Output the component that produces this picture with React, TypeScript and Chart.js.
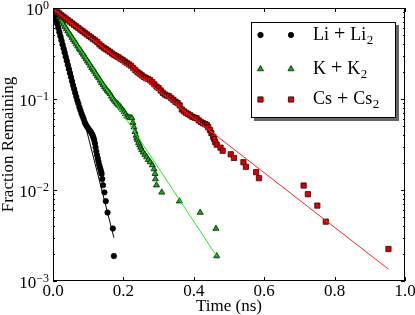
import React, { useEffect, useRef } from 'react';
import { Chart, registerables } from 'chart.js';

Chart.register(...registerables);

// ---------- data ----------
const liTime = [
  0.000, 0.003, 0.006, 0.009, 0.012, 0.015, 0.018, 0.021, 0.024, 0.027,
  0.030, 0.033, 0.036, 0.039, 0.042, 0.045, 0.048, 0.051, 0.054, 0.057,
  0.060, 0.063, 0.066, 0.069, 0.072, 0.075, 0.078, 0.081, 0.084, 0.087,
  0.090, 0.093, 0.096, 0.099, 0.102, 0.105, 0.108, 0.111, 0.113, 0.115,
  0.117, 0.119, 0.121, 0.123, 0.125, 0.127, 0.129, 0.131, 0.133, 0.135,
  0.137, 0.138, 0.140, 0.142, 0.146, 0.150, 0.155, 0.170, 0.173,
];
const liFraction = [
  1.000, 0.912, 0.822, 0.741, 0.668, 0.603, 0.543, 0.490, 0.442, 0.398,
  0.359, 0.324, 0.292, 0.263, 0.237, 0.214, 0.193, 0.174, 0.157, 0.141,
  0.129, 0.117, 0.106, 0.0966, 0.0891, 0.0813, 0.0750, 0.0692, 0.0646, 0.0603,
  0.0556, 0.0525, 0.0501, 0.0484, 0.0462, 0.0447, 0.0432, 0.0412, 0.0394, 0.0376,
  0.0355, 0.0327, 0.0295, 0.0266, 0.0243, 0.0224, 0.0207, 0.0191, 0.0178, 0.0168,
  0.0158, 0.0150, 0.0132, 0.0113, 0.00942, 0.00753, 0.00565, 0.00377, 0.00188,
];

const kTime = [
  0.018, 0.022, 0.026, 0.030, 0.034, 0.038, 0.042, 0.046, 0.050, 0.054,
  0.058, 0.062, 0.066, 0.070, 0.074, 0.078, 0.082, 0.086, 0.090, 0.094,
  0.098, 0.102, 0.106, 0.110, 0.114, 0.118, 0.122, 0.126, 0.130, 0.134,
  0.138, 0.142, 0.146, 0.150, 0.154, 0.158, 0.162, 0.166, 0.170, 0.174,
  0.178, 0.182, 0.186, 0.190, 0.194, 0.198, 0.202, 0.206, 0.210, 0.214,
  0.219, 0.224, 0.227, 0.230, 0.233, 0.236, 0.238, 0.240, 0.243, 0.246,
  0.249, 0.252, 0.256, 0.261, 0.266, 0.271, 0.276, 0.282, 0.287, 0.290,
  0.291, 0.294, 0.309, 0.359, 0.418, 0.463, 0.465,
];
const kFraction = [
  0.794, 0.741, 0.700, 0.661, 0.624, 0.589, 0.556, 0.525, 0.501, 0.473,
  0.447, 0.427, 0.403, 0.380, 0.359, 0.343, 0.324, 0.309, 0.292, 0.275,
  0.260, 0.248, 0.234, 0.221, 0.211, 0.200, 0.188, 0.178, 0.170, 0.160,
  0.151, 0.143, 0.136, 0.130, 0.124, 0.119, 0.114, 0.107, 0.101, 0.0966,
  0.0923, 0.0891, 0.0861, 0.0832, 0.0794, 0.0759, 0.0724, 0.0684, 0.0646, 0.0631,
  0.0624, 0.0617, 0.0550, 0.0490, 0.0437, 0.0398, 0.0372, 0.0355, 0.0331, 0.0312,
  0.0294, 0.0276, 0.0260, 0.0245, 0.0230, 0.0215, 0.0203, 0.0188, 0.0170, 0.0151,
  0.0132, 0.0113, 0.00942, 0.00753, 0.00565, 0.00377, 0.00188,
];

const csTime = [
  0.000, 0.006, 0.012, 0.018, 0.024, 0.030, 0.036, 0.042, 0.048, 0.054,
  0.060, 0.066, 0.072, 0.078, 0.084, 0.090, 0.096, 0.102, 0.108, 0.114,
  0.120, 0.126, 0.132, 0.138, 0.144, 0.150, 0.156, 0.162, 0.168, 0.174,
  0.180, 0.186, 0.192, 0.198, 0.204, 0.210, 0.216, 0.222, 0.228, 0.234,
  0.240, 0.246, 0.252, 0.258, 0.264, 0.270, 0.276, 0.282, 0.288, 0.294,
  0.300, 0.306, 0.312, 0.318, 0.324, 0.330, 0.336, 0.342, 0.348, 0.354,
  0.360, 0.366, 0.372, 0.378, 0.384, 0.390, 0.396, 0.402, 0.408, 0.414,
  0.420, 0.426, 0.432, 0.437, 0.441, 0.446, 0.450, 0.455, 0.458, 0.461,
  0.465, 0.476, 0.482, 0.505, 0.514, 0.541, 0.548, 0.577, 0.585, 0.712,
  0.724, 0.751, 0.775, 0.953,
];
const csFraction = [
  1.000, 0.955, 0.912, 0.871, 0.832, 0.798, 0.767, 0.736, 0.708, 0.679,
  0.653, 0.627, 0.603, 0.578, 0.556, 0.535, 0.513, 0.493, 0.475, 0.457,
  0.440, 0.422, 0.398, 0.380, 0.366, 0.353, 0.341, 0.330, 0.316, 0.305,
  0.296, 0.287, 0.277, 0.268, 0.258, 0.249, 0.240, 0.231, 0.219, 0.207,
  0.197, 0.190, 0.182, 0.175, 0.170, 0.166, 0.161, 0.153, 0.145, 0.137,
  0.132, 0.124, 0.117, 0.112, 0.109, 0.107, 0.102, 0.0977, 0.0933, 0.0902,
  0.0851, 0.0767, 0.0733, 0.0705, 0.0684, 0.0661, 0.0638, 0.0624, 0.0614, 0.0582,
  0.0560, 0.0543, 0.0531, 0.0518, 0.0490, 0.0457, 0.0422, 0.0385, 0.0363, 0.0337,
  0.0315, 0.0292, 0.0270, 0.0247, 0.0225, 0.0202, 0.0180, 0.0157, 0.0135, 0.0112,
  0.00899, 0.00674, 0.00449, 0.00225,
];

// exponential fits (end points of straight lines on the log axis)
const liFitTime = [0.007, 0.173];
const liFitFraction = [1.0, 0.0030];
const kFitTime = [0.022, 0.465];
const kFitFraction = [0.738, 0.00188];
const csFitTime = [0.0, 0.953];
const csFitFraction = [0.977, 0.00135];

const legendNames = ['Li', 'K', 'Cs'];
const xTickValues = [0, 0.2, 0.4, 0.6, 0.8, 1.0];
const xTickLabels = ['0.0', '0.2', '0.4', '0.6', '0.8', '1.0'];
const yTickValues = [1, 0.1, 0.01, 0.001];
const yTickExponents = ['0', '\u22121', '\u22122', '\u22123'];
const yMinorMultipliers = [2, 3, 4, 5, 6, 7, 8, 9];
const yMinorDecades = [0.1, 0.01, 0.001];
const xAxisTitle = 'Time (ns)';
const yAxisTitle = 'Fraction Remaining';

// ---------- styles ----------
const FONT = '"Liberation Serif", "Times New Roman", serif';
const STYLE = {
  li: { shape: 'circle', fill: '#000000', edge: '#000000', r: 2.7, line: '#000000' },
  k: { shape: 'triangle', fill: '#18a818', edge: '#002200', r: 3.5, line: '#2ee02e' },
  cs: { shape: 'rect', fill: '#d80000', edge: '#300000', r: 3.7, line: '#ee2a2a' },
};
const legendStyles = [STYLE.li, STYLE.k, STYLE.cs];
const legendRowY = [35, 69, 99.5];

const toPoints = (xs: number[], ys: number[]) => xs.map((x, i) => ({ x, y: ys[i] }));

function drawMarker(ctx: CanvasRenderingContext2D, st: any, x: number, y: number) {
  ctx.beginPath();
  if (st.shape === 'circle') {
    ctx.arc(x, y, st.r, 0, Math.PI * 2);
  } else if (st.shape === 'triangle') {
    const r = st.r;
    ctx.moveTo(x, y - r);
    ctx.lineTo(x + 0.866 * r, y + 0.5 * r);
    ctx.lineTo(x - 0.866 * r, y + 0.5 * r);
    ctx.closePath();
  } else {
    const s = Math.SQRT1_2 * st.r;
    ctx.rect(x - s, y - s, 2 * s, 2 * s);
  }
  ctx.fillStyle = st.fill;
  ctx.fill();
  ctx.lineWidth = 0.8;
  ctx.strokeStyle = st.edge;
  ctx.stroke();
}

const decorPlugin = {
  id: 'decor',
  afterDraw(chart: any) {
    const { ctx, chartArea: a, scales } = chart;
    const xs = scales.x;
    const ys = scales.y;
    ctx.save();
    // frame
    ctx.strokeStyle = '#000';
    ctx.lineWidth = 1;
    ctx.strokeRect(a.left + 0.5, a.top + 0.5, a.right - a.left - 1, a.bottom - a.top - 1);
    // ticks
    ctx.beginPath();
    xTickValues.forEach((v) => {
      const px = Math.round(xs.getPixelForValue(v)) + 0.5;
      ctx.moveTo(px, a.bottom); ctx.lineTo(px, a.bottom - 4);
      ctx.moveTo(px, a.top); ctx.lineTo(px, a.top + 4);
    });
    yTickValues.forEach((v) => {
      const py = Math.round(ys.getPixelForValue(v)) + 0.5;
      ctx.moveTo(a.left, py); ctx.lineTo(a.left + 4, py);
      ctx.moveTo(a.right, py); ctx.lineTo(a.right - 4, py);
    });
    yMinorDecades.forEach((d) => yMinorMultipliers.forEach((m) => {
      const py = Math.round(ys.getPixelForValue(m * d)) + 0.5;
      ctx.moveTo(a.left, py); ctx.lineTo(a.left + 2, py);
      ctx.moveTo(a.right, py); ctx.lineTo(a.right - 2, py);
    }));
    ctx.stroke();

    // tick labels
    ctx.fillStyle = '#000';
    ctx.textBaseline = 'alphabetic';
    ctx.font = `17px ${FONT}`;
    ctx.textAlign = 'center';
    xTickLabels.forEach((t, i) => ctx.fillText(t, xs.getPixelForValue(xTickValues[i]), a.bottom + 15));
    yTickValues.forEach((v, i) => {
      const py = ys.getPixelForValue(v);
      ctx.textAlign = 'right';
      ctx.font = `12px ${FONT}`;
      const supW = ctx.measureText(yTickExponents[i]).width;
      ctx.fillText(yTickExponents[i], 49, py + 1);
      ctx.font = `17px ${FONT}`;
      ctx.fillText('10', 49 - supW, py + 7);
    });

    // axis titles
    ctx.font = `17px ${FONT}`;
    ctx.textAlign = 'center';
    ctx.fillText(xAxisTitle, (a.left + a.right) / 2, 311);
    ctx.save();
    ctx.translate(13, (a.top + a.bottom) / 2);
    ctx.rotate(-Math.PI / 2);
    ctx.fillText(yAxisTitle, 0, 0);
    ctx.restore();

    // legend
    const lx = 251, ly = 22, lw = 144, lh = 95;
    ctx.fillStyle = 'rgba(0,0,0,0.6)';
    ctx.fillRect(lx + 3, ly + 3, lw + 1, lh + 1);
    ctx.fillStyle = '#fff';
    ctx.fillRect(lx, ly, lw + 1, lh + 1);
    ctx.strokeStyle = '#000';
    ctx.lineWidth = 1;
    ctx.strokeRect(lx + 0.5, ly + 0.5, lw, lh);
    legendNames.forEach((name, i) => {
      const y = legendRowY[i];
      drawMarker(ctx, legendStyles[i], 260.5, y);
      drawMarker(ctx, legendStyles[i], 291, y);
      const base = y + 4.5;
      ctx.fillStyle = '#000';
      ctx.textAlign = 'left';
      ctx.font = `18px ${FONT}`;
      let x = 313;
      ctx.fillText(name, x, base);
      x += ctx.measureText(name).width + 5;
      ctx.font = `20px ${FONT}`;
      ctx.fillText('+', x, base + 0.5);
      x += ctx.measureText('+').width + 5;
      ctx.font = `18px ${FONT}`;
      ctx.fillText(name, x, base);
      x += ctx.measureText(name).width + 0.5;
      ctx.font = `13px ${FONT}`;
      ctx.fillText('2', x, base + 4);
    });
    ctx.restore();
  },
};

export default function App() {
  const ref = useRef<HTMLCanvasElement | null>(null);
  useEffect(() => {
    const canvas = ref.current;
    if (!canvas) return;
    const scatter = (data: any, st: any, order: number) => ({
      data,
      showLine: false,
      pointStyle: st.shape,
      pointRadius: st.r,
      pointBackgroundColor: st.fill,
      pointBorderColor: st.edge,
      pointBorderWidth: 0.8,
      backgroundColor: st.fill,
      borderColor: st.edge,
      clip: 0,
      order,
    });
    const fit = (data: any, st: any, order: number) => ({
      data,
      showLine: true,
      pointRadius: 0,
      borderColor: st.line,
      borderWidth: 1,
      fill: false,
      clip: 0,
      order,
    });
    const chart = new Chart(canvas, {
      type: 'scatter',
      data: {
        datasets: [
          scatter(toPoints(liTime, liFraction), STYLE.li, 6),
          fit(toPoints(liFitTime, liFitFraction), STYLE.li, 5),
          scatter(toPoints(kTime, kFraction), STYLE.k, 4),
          fit(toPoints(kFitTime, kFitFraction), STYLE.k, 3),
          scatter(toPoints(csTime, csFraction), STYLE.cs, 2),
          fit(toPoints(csFitTime, csFitFraction), STYLE.cs, 1),
        ] as any,
      },
      options: {
        responsive: false,
        animation: false,
        events: [],
        layout: { padding: { top: 8, right: 10, left: 0, bottom: 0 } },
        plugins: { legend: { display: false }, tooltip: { enabled: false } },
        scales: {
          x: {
            type: 'linear', min: 0, max: 1,
            ticks: { display: false }, grid: { display: false }, border: { display: false },
            afterFit: (s: any) => { s.height = 34; },
          },
          y: {
            type: 'logarithmic', min: 0.001, max: 1,
            ticks: { display: false }, grid: { display: false }, border: { display: false },
            afterFit: (s: any) => { s.width = 53; },
          },
        },
      } as any,
      plugins: [decorPlugin],
    });
    return () => chart.destroy();
  }, []);
  return (
    <div style={{ position: 'absolute', left: 0, top: 0, width: 415, height: 315, background: '#fff' }}>
      <canvas ref={ref} width={415} height={315} style={{ display: 'block', width: 415, height: 315 }} />
    </div>
  );
}
